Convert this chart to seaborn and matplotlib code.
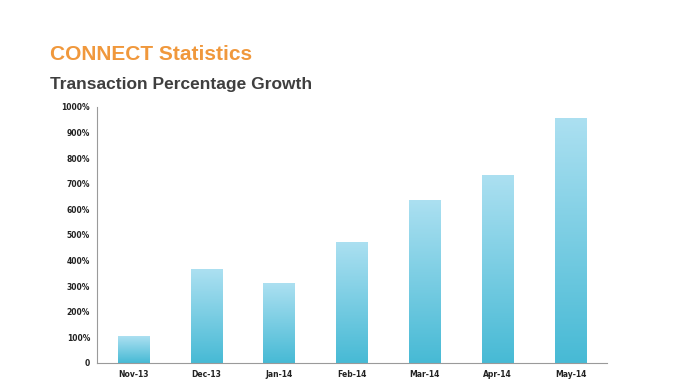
import numpy as np
import pandas as pd
import matplotlib
matplotlib.use("Agg")
import matplotlib.pyplot as plt
import seaborn as sns
from matplotlib.colors import LinearSegmentedColormap
from matplotlib.ticker import FuncFormatter

months = ["Nov-13", "Dec-13", "Jan-14", "Feb-14", "Mar-14", "Apr-14", "May-14"]
growth = [105, 367, 312, 473, 637, 734, 957]

df = pd.DataFrame({"month": months, "growth": growth})

sns.set_style("white")
fig = plt.figure(figsize=(6.92, 3.89), dpi=100)
ax = fig.add_axes([97 / 692, 1 - 363 / 389, 510 / 692, 256 / 389])

sns.barplot(data=df, x="month", y="growth", color="#6fcbe2", width=0.43, ax=ax)

# vertical gradient inside each bar
cmap = LinearSegmentedColormap.from_list("bar", ["#47bad5", "#ace0f1"])
grad = np.linspace(0, 1, 256).reshape(-1, 1)
for p in ax.patches:
    x0, y0 = p.get_x(), p.get_y()
    w, h = p.get_width(), p.get_height()
    im = ax.imshow(grad, cmap=cmap, origin="lower", aspect="auto",
                   extent=[x0, x0 + w, y0, y0 + h], zorder=p.get_zorder() + 0.1)
    im.set_clip_path(p)

ax.set_xlim(-0.5, len(months) - 0.5)
ax.set_ylim(0, 1000)
ax.set_yticks(range(0, 1001, 100))
ax.yaxis.set_major_formatter(FuncFormatter(lambda v, _: "0" if v == 0 else f"{int(v)}%"))
ax.set_xlabel("")
ax.set_ylabel("")

# x ticks between categories, labels at centres
ax.set_xticks(np.arange(-0.5, len(months), 1))
ax.set_xticklabels([])
ax.set_xticks(range(len(months)), minor=True)
ax.set_xticklabels(months, minor=True)
ax.tick_params(axis="x", which="major", length=4, width=0.8, color="#9a9a9a", direction="out")
ax.tick_params(axis="x", which="minor", length=0, pad=5)
ax.tick_params(axis="y", length=3, width=0.8, color="#9a9a9a", direction="out", pad=2)
for lab in ax.get_xticklabels(minor=True) + ax.get_yticklabels():
    lab.set_fontsize(5.5)
    lab.set_fontweight("bold")
    lab.set_color("#222222")

for s in ["top", "right"]:
    ax.spines[s].set_visible(False)
for s in ["left", "bottom"]:
    ax.spines[s].set_color("#9a9a9a")
    ax.spines[s].set_linewidth(0.8)

fig.text(50 / 692, 1 - 60 / 389, "CONNECT Statistics", fontsize=15, fontweight="bold",
         color="#f0983c", family="Liberation Sans")
fig.text(50 / 692, 1 - 89 / 389, "Transaction Percentage Growth", fontsize=12.5,
         fontweight="bold", color="#3f3f3f", family="Liberation Sans")

fig.savefig("out.png", dpi=100)
